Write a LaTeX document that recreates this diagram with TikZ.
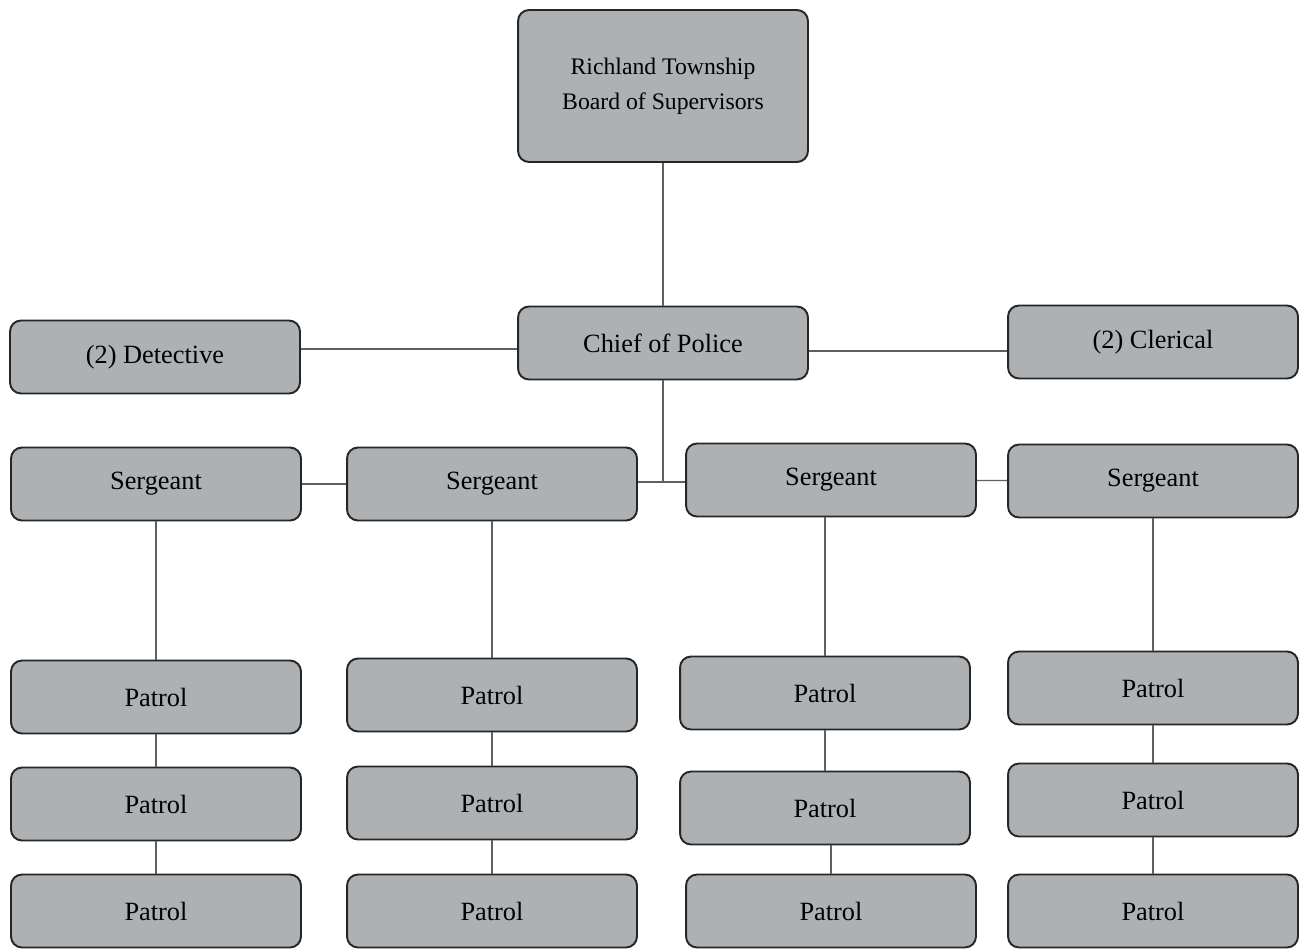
\documentclass[tikz,border=0pt]{standalone}
\usepackage{fontspec}
\setmainfont{Liberation Serif}
\definecolor{boxgray}{RGB}{174,177,180}
\definecolor{linegray}{RGB}{95,95,95}
\tikzstyle{orgbox} = [draw=black!85, fill=boxgray, rounded corners=0.22cm, line width=1.1pt, minimum width=5.8cm, minimum height=1.46cm, font=\fontsize{15}{18}\selectfont]
\tikzstyle{link} = [draw=linegray, line width=0.7pt]

\begin{document}
\begin{tikzpicture}[x=0.02cm, y=-0.02cm]
      \useasboundingbox (0,0) rectangle (1304,948);
      \node[orgbox, minimum height=3.04cm, font=\fontsize{13.5}{20}\selectfont, align=center] (board) at (663,86) {Richland Township\\Board of Supervisors};
      \node[orgbox] (chief) at (663,343) {Chief of Police};
      \node[orgbox] (detective) at (155,357) {(2) Detective};
      \node[orgbox] (clerical) at (1153,342) {(2) Clerical};

      \node[orgbox] (sgt1) at (156,484) {Sergeant};
      \node[orgbox] (sgt2) at (492,484) {Sergeant};
      \node[orgbox] (sgt3) at (831,480) {Sergeant};
      \node[orgbox] (sgt4) at (1153,481) {Sergeant};

      \node[orgbox] (pat11) at (156,697) {Patrol};
      \node[orgbox] (pat12) at (156,804) {Patrol};
      \node[orgbox] (pat13) at (156,911) {Patrol};
      \node[orgbox] (pat21) at (492,695) {Patrol};
      \node[orgbox] (pat22) at (492,803) {Patrol};
      \node[orgbox] (pat23) at (492,911) {Patrol};
      \node[orgbox] (pat31) at (825,693) {Patrol};
      \node[orgbox] (pat32) at (825,808) {Patrol};
      \node[orgbox] (pat33) at (831,911) {Patrol};
      \node[orgbox] (pat41) at (1153,688) {Patrol};
      \node[orgbox] (pat42) at (1153,800) {Patrol};
      \node[orgbox] (pat43) at (1153,911) {Patrol};

      \coordinate (junc) at (663,482);

      \path[link] (board) -- (chief);
      \path[link] (chief.west |- 0,349) -- (detective.east |- 0,349);
      \path[link] (chief.east |- 0,351) -- (clerical.west |- 0,351);
      \path[link] (chief) -- (junc);
      \path[link] (sgt2.east |- junc) -- (sgt3.west |- junc);
      \path[link] (sgt1) -- (sgt2);
      \path[link] (sgt3) -- (sgt4);

      \path[link] (sgt1) -- (pat11) -- (pat12) -- (pat13);
      \path[link] (sgt2) -- (pat21) -- (pat22) -- (pat23);
      \path[link] (sgt3.south -| pat31) -- (pat31) -- (pat32);
      \path[link] (pat32.south -| pat33) -- (pat33);
      \path[link] (sgt4) -- (pat41) -- (pat42) -- (pat43);
\end{tikzpicture}
\end{document}
